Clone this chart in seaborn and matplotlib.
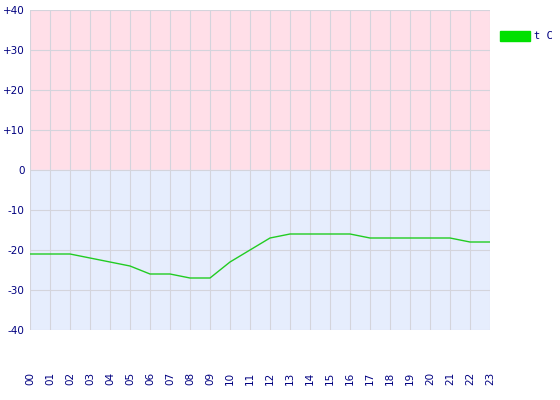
import numpy as np
import pandas as pd
import matplotlib
matplotlib.use("Agg")
import matplotlib.pyplot as plt
import seaborn as sns

# data
hours = ["00", "01", "02", "03", "04", "05", "06", "07", "08", "09", "10", "11",
         "12", "13", "14", "15", "16", "17", "18", "19", "20", "21", "22", "23"]
temps = [-21, -21, -21, -22, -23, -24, -26, -26, -27, -27, -23, -20,
         -17, -16, -16, -16, -16, -17, -17, -17, -17, -17, -18, -18]
y_ticks = [40, 30, 20, 10, 0, -10, -20, -30, -40]
y_labels = ["+40", "+30", "+20", "+10", "0", "-10", "-20", "-30", "-40"]
series_name = "t C"

df = pd.DataFrame({"x": np.arange(len(hours)), "t": temps})

sns.set_style("white")
plt.rcParams["font.family"] = ["DejaVu Sans"]

fig = plt.figure(figsize=(5.6, 4.0), dpi=100)
ax = fig.add_axes([30 / 560, 1 - 330 / 400, 460 / 560, 320 / 400])

# фон: розовый выше нуля, голубой ниже
ax.axhspan(0, 40, color="#ffdfe8", zorder=0)
ax.axhspan(-40, 0, color="#e6edfd", zorder=0)

sns.lineplot(data=df, x="x", y="t", ax=ax, color="#22cc22", linewidth=1.0, zorder=3)

ax.set_xlim(0, len(hours) - 1)
ax.set_ylim(-40, 40)
ax.set_xticks(df["x"])
ax.set_xticklabels(hours, rotation=90, fontsize=7.5, color="#000080")
ax.set_yticks(y_ticks)
ax.set_yticklabels(y_labels, fontsize=7.5, color="#000080")
ax.tick_params(axis="x", length=0, pad=30)
ax.tick_params(axis="y", length=0, pad=4)
ax.grid(True, color="#d4d4dc", linewidth=0.8, zorder=1)
ax.set_axisbelow(False)
for s in ax.spines.values():
    s.set_visible(False)
ax.set_xlabel("")
ax.set_ylabel("")

# legend
fig.patches.append(plt.Rectangle((500 / 560, 1 - 41 / 400), 30 / 560, 10 / 400,
                                 transform=fig.transFigure, color="#00e000"))
fig.text(534 / 560, 1 - 36 / 400, series_name, fontsize=7.5, color="#000080",
         va="center", ha="left", family="DejaVu Sans Mono")

fig.savefig("out.png", dpi=100)
